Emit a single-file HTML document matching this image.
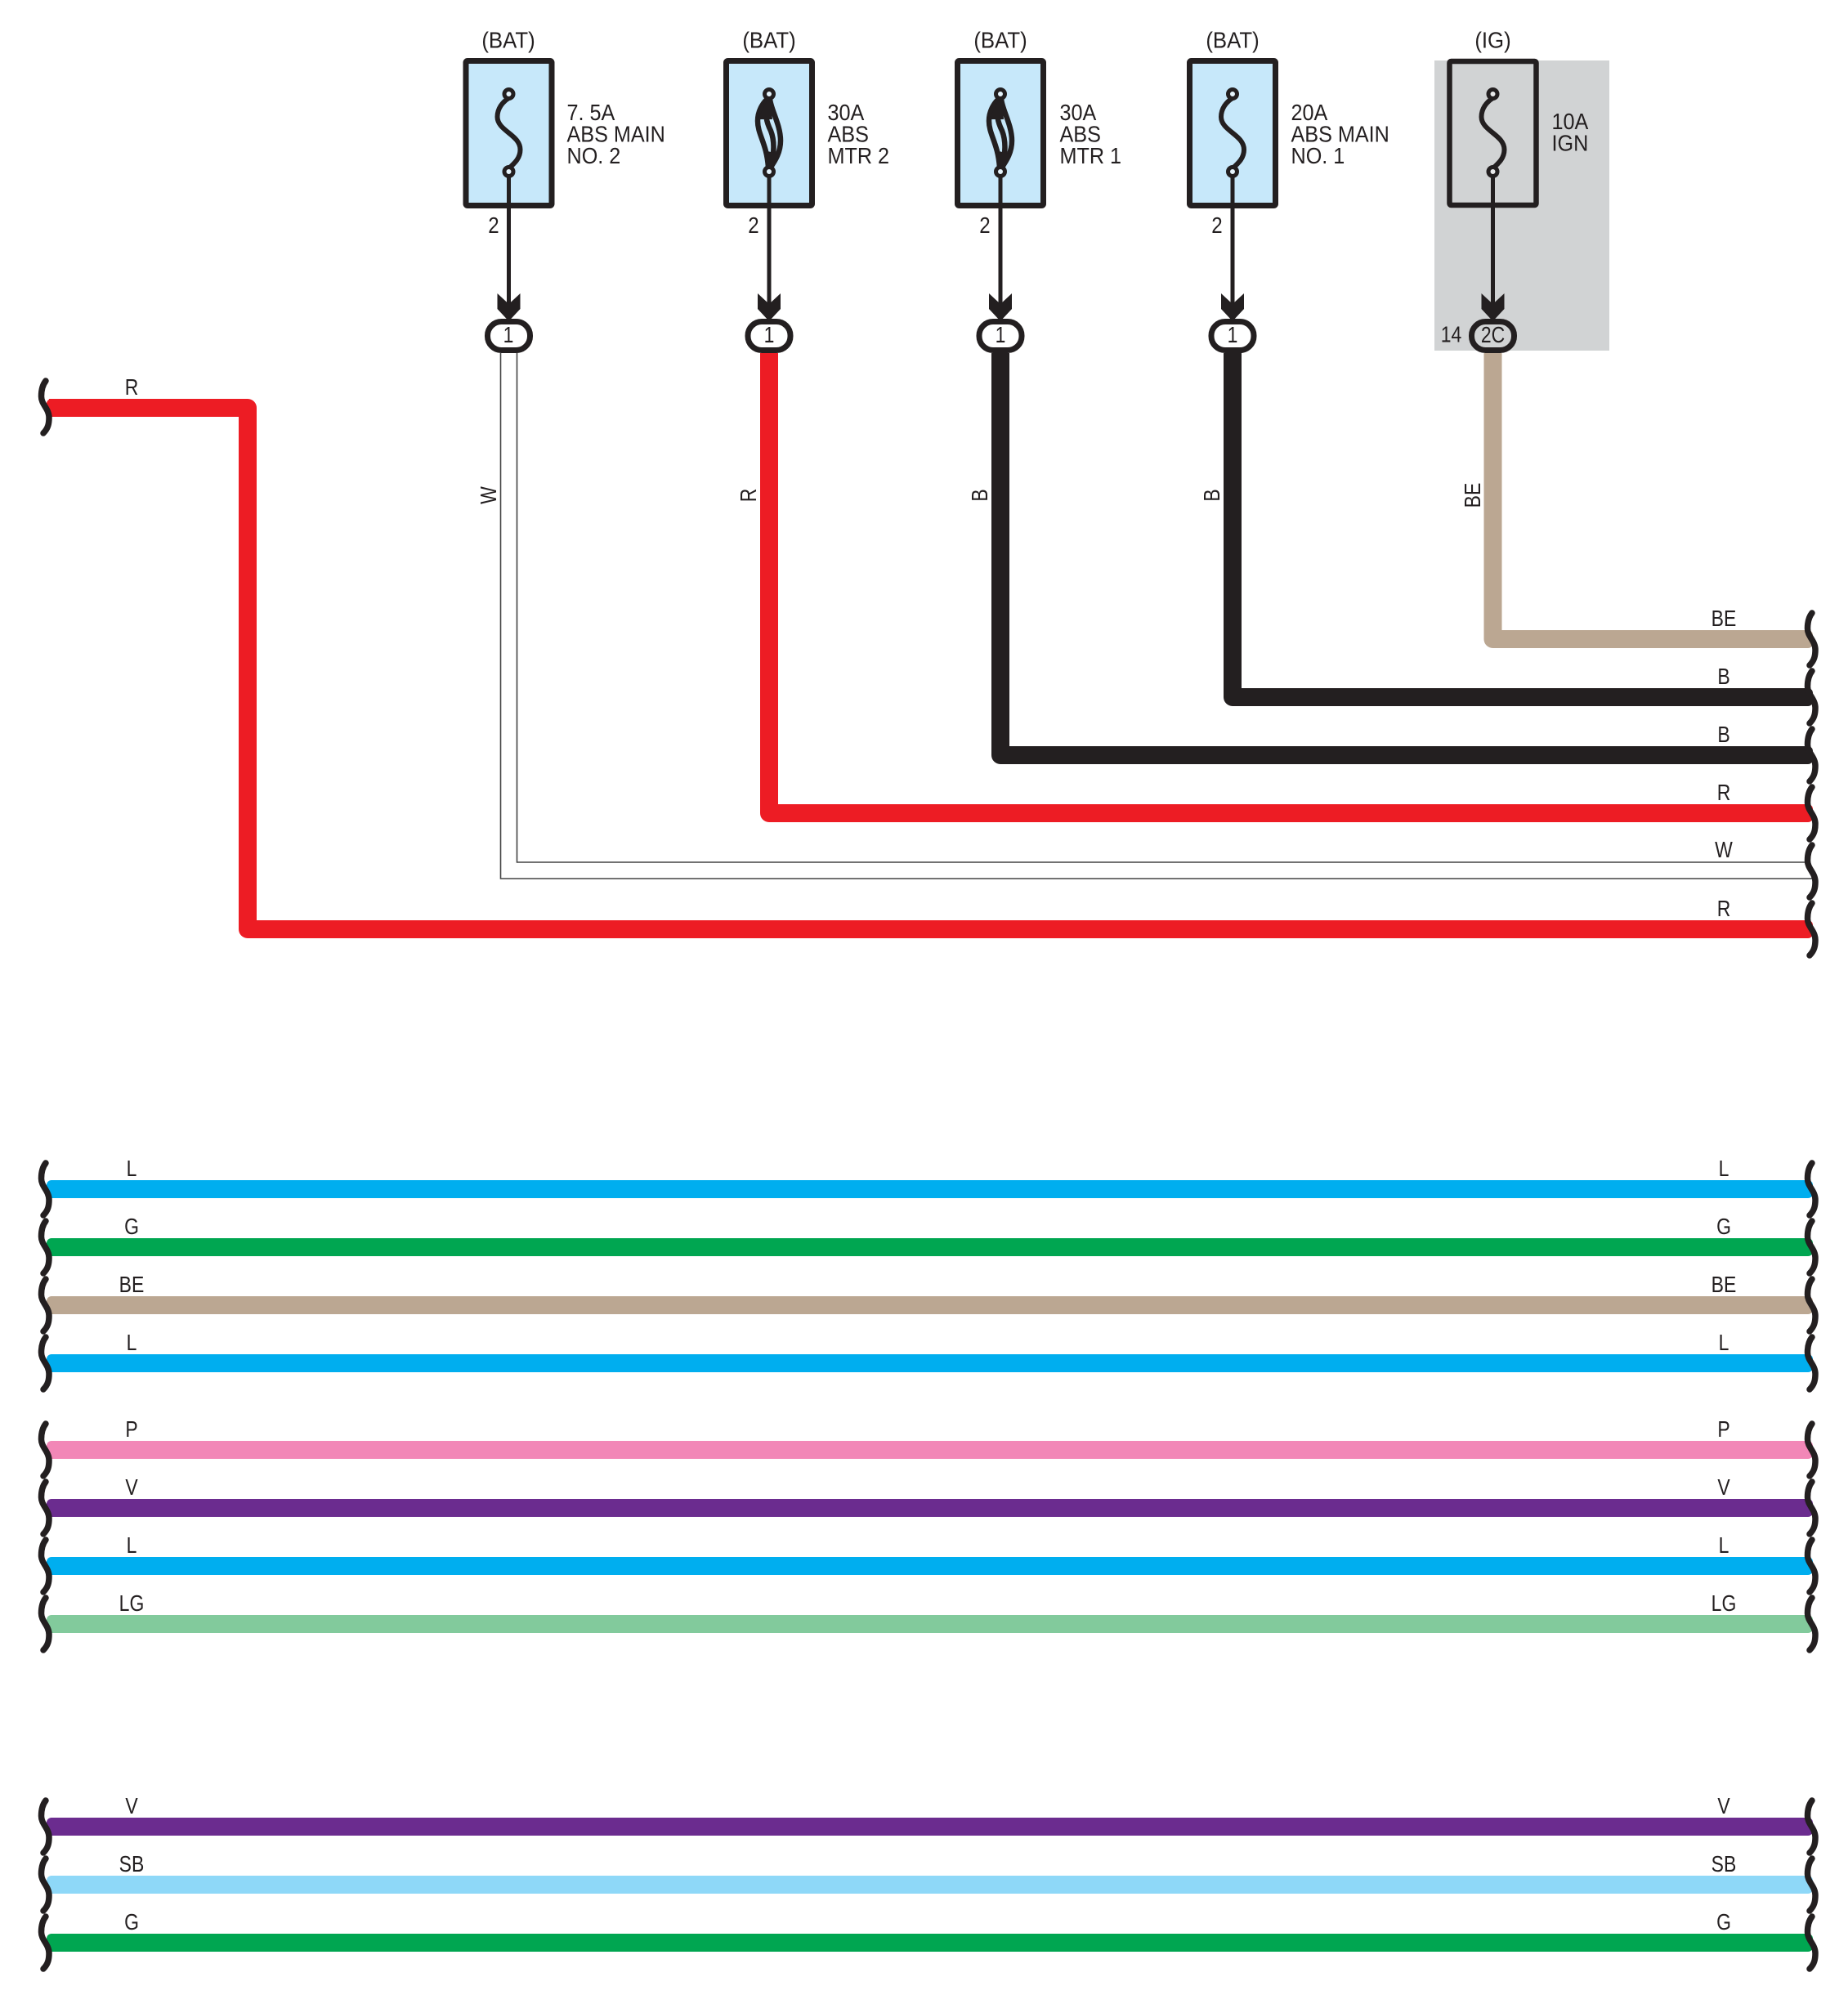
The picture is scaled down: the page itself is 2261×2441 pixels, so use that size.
<!DOCTYPE html>
<html><head><meta charset="utf-8"><style>
html,body{margin:0;padding:0;background:#fff}
svg{display:block}
text{font-family:"Liberation Sans",sans-serif;font-size:28px;fill:#231f20}
.m{text-anchor:middle}
</style></head><body>
<svg xmlns="http://www.w3.org/2000/svg" width="2261" height="2441" viewBox="0 0 2261 2441">
<defs>
<path id="sq" d="M56 -32C52 -27 50.5 -20 50.5 -13C50.5 -3 60 2 60 13C60 20 59 26 53 32" fill="none" stroke="#231f20" stroke-width="7.5" stroke-linecap="round"/>
<path id="thin" d="M0 120C-8 125 -14 133 -14 143C-14 160 14 165 14 183C14 193 8 199 0 206" fill="none" stroke="#231f20" stroke-width="6"/>
<g id="fat" fill="none" stroke="#231f20">
<path d="M-1 120C-9 127 -14 137 -14 148C-14 165 -3 175 -1 205" stroke-width="6.5"/>
<path d="M1 120C1 132 14 152 14 172C14 186 8 196 1 206" stroke-width="6.5"/>
<path d="M-2 122C-6 140 -3 150 2 160C6 170 7 185 2 205" stroke-width="6.5"/>
<path d="M-1 120L-14 146L4 146L2 120Z" fill="#231f20" stroke="none"/>
<path d="M-2 206L-7 184L12 188L2 207Z" fill="#231f20" stroke="none"/>
</g>
<g id="pins">
<path d="M0 210V392" stroke="#231f20" stroke-width="5" fill="none"/>
<polygon points="-14,359 0,372 14,359 14,378 0,393 -14,378" fill="#231f20"/>
</g>
</defs>

<rect x="1755" y="74" width="214" height="355" fill="#d1d3d4"/>

<!-- fuses -->
<g transform="translate(622.5,0)">
<rect x="-52.5" y="74.5" width="105" height="177" rx="2" fill="#c7e8fa" stroke="#231f20" stroke-width="7"/>
<use href="#thin"/><use href="#pins"/>
<circle cy="115" r="5.5" fill="#e6f4fc" stroke="#231f20" stroke-width="5"/><circle cy="210" r="5.5" fill="#e6f4fc" stroke="#231f20" stroke-width="5"/>
</g>
<g transform="translate(941,0)">
<rect x="-52.5" y="74.5" width="105" height="177" rx="2" fill="#c7e8fa" stroke="#231f20" stroke-width="7"/>
<use href="#fat"/><use href="#pins"/>
<circle cy="115" r="5.5" fill="#e6f4fc" stroke="#231f20" stroke-width="5"/><circle cy="210" r="5.5" fill="#e6f4fc" stroke="#231f20" stroke-width="5"/>
</g>
<g transform="translate(1224,0)">
<rect x="-52.5" y="74.5" width="105" height="177" rx="2" fill="#c7e8fa" stroke="#231f20" stroke-width="7"/>
<use href="#fat"/><use href="#pins"/>
<circle cy="115" r="5.5" fill="#e6f4fc" stroke="#231f20" stroke-width="5"/><circle cy="210" r="5.5" fill="#e6f4fc" stroke="#231f20" stroke-width="5"/>
</g>
<g transform="translate(1508,0)">
<rect x="-52.5" y="74.5" width="105" height="177" rx="2" fill="#c7e8fa" stroke="#231f20" stroke-width="7"/>
<use href="#thin"/><use href="#pins"/>
<circle cy="115" r="5.5" fill="#e6f4fc" stroke="#231f20" stroke-width="5"/><circle cy="210" r="5.5" fill="#e6f4fc" stroke="#231f20" stroke-width="5"/>
</g>
<g transform="translate(1826.5,0)">
<rect x="-53" y="75" width="106" height="176" rx="2" fill="#d1d3d4" stroke="#231f20" stroke-width="6.5"/>
<use href="#thin"/><use href="#pins"/>
<circle cy="115" r="5.5" fill="#e8e9ea" stroke="#231f20" stroke-width="5"/><circle cy="210" r="5.5" fill="#e8e9ea" stroke="#231f20" stroke-width="5"/>
</g>

<!-- wires with bends -->
<g fill="none" stroke-linejoin="round" stroke-width="22">
<path d="M60 499H303V1137H2210" stroke="#ed1c24"/>
<path d="M941 432V995H2210" stroke="#ed1c24"/>
<path d="M1224 432V924H2210" stroke="#231f20"/>
<path d="M1508 432V853H2210" stroke="#231f20"/>
<path d="M1826.5 432V782H2210" stroke="#bba792"/>
</g>
<path d="M632.5 432V1055H2208M612.5 432V1075H2220" fill="none" stroke="#444" stroke-width="1.6"/>

<!-- end caps -->
<rect x="57" y="488" width="20" height="22" rx="6" fill="#ed1c24"/>
<rect x="2198" y="1126" width="20" height="22" rx="6" fill="#ed1c24"/>
<rect x="2198" y="984" width="20" height="22" rx="6" fill="#ed1c24"/>
<rect x="2198" y="913" width="20" height="22" rx="6" fill="#231f20"/>
<rect x="2198" y="842" width="20" height="22" rx="6" fill="#231f20"/>
<rect x="2198" y="771" width="20" height="22" rx="6" fill="#bba792"/>

<!-- full width wires -->
<rect x="57" y="1444" width="2161" height="22" rx="6" fill="#00aeef"/>
<rect x="57" y="1515" width="2161" height="22" rx="6" fill="#00a651"/>
<rect x="57" y="1586" width="2161" height="22" rx="6" fill="#bba792"/>
<rect x="57" y="1657" width="2161" height="22" rx="6" fill="#00aeef"/>
<rect x="57" y="1763" width="2161" height="22" rx="6" fill="#f287b7"/>
<rect x="57" y="1834" width="2161" height="22" rx="6" fill="#6b2c8f"/>
<rect x="57" y="1905" width="2161" height="22" rx="6" fill="#00aeef"/>
<rect x="57" y="1976" width="2161" height="22" rx="6" fill="#82ca9c"/>
<rect x="57" y="2224" width="2161" height="22" rx="6" fill="#6b2c8f"/>
<rect x="57" y="2295" width="2161" height="22" rx="6" fill="#8ed8f8"/>
<rect x="57" y="2366" width="2161" height="22" rx="6" fill="#00a651"/>

<!-- connectors -->
<g fill="#fff" stroke="#231f20" stroke-width="7">
<rect x="596.5" y="393.5" width="52" height="35" rx="17"/>
<rect x="915" y="393.5" width="52" height="35" rx="17"/>
<rect x="1198" y="393.5" width="52" height="35" rx="17"/>
<rect x="1482" y="393.5" width="52" height="35" rx="17"/>
<rect x="1800.5" y="393.5" width="52" height="35" rx="17" fill="#d1d3d4"/>
</g>

<!-- break marks -->
<use href="#sq" transform="translate(0,498)"/>
<use href="#sq" transform="translate(0,1455)"/><use href="#sq" transform="translate(0,1526)"/><use href="#sq" transform="translate(0,1597)"/><use href="#sq" transform="translate(0,1668)"/>
<use href="#sq" transform="translate(0,1774)"/><use href="#sq" transform="translate(0,1845)"/><use href="#sq" transform="translate(0,1916)"/><use href="#sq" transform="translate(0,1987)"/>
<use href="#sq" transform="translate(0,2235)"/><use href="#sq" transform="translate(0,2306)"/><use href="#sq" transform="translate(0,2377)"/>
<use href="#sq" transform="translate(2161,782)"/><use href="#sq" transform="translate(2161,853)"/><use href="#sq" transform="translate(2161,924)"/><use href="#sq" transform="translate(2161,995)"/><use href="#sq" transform="translate(2161,1066)"/><use href="#sq" transform="translate(2161,1137)"/>
<use href="#sq" transform="translate(2161,1455)"/><use href="#sq" transform="translate(2161,1526)"/><use href="#sq" transform="translate(2161,1597)"/><use href="#sq" transform="translate(2161,1668)"/>
<use href="#sq" transform="translate(2161,1774)"/><use href="#sq" transform="translate(2161,1845)"/><use href="#sq" transform="translate(2161,1916)"/><use href="#sq" transform="translate(2161,1987)"/>
<use href="#sq" transform="translate(2161,2235)"/><use href="#sq" transform="translate(2161,2306)"/><use href="#sq" transform="translate(2161,2377)"/>

<!-- fuse labels -->
<text class="m" transform="translate(622,58.5) scale(.92,1)">(BAT)</text>
<text class="m" transform="translate(941,58.5) scale(.92,1)">(BAT)</text>
<text class="m" transform="translate(1224,58.5) scale(.92,1)">(BAT)</text>
<text class="m" transform="translate(1508,58.5) scale(.92,1)">(BAT)</text>
<text class="m" transform="translate(1826.5,58.5) scale(.92,1)">(IG)</text>

<text transform="translate(693.5,147) scale(.9,1)">7. 5A</text>
<text transform="translate(693.5,173.5) scale(.9,1)">ABS MAIN</text>
<text transform="translate(693.5,200) scale(.9,1)">NO. 2</text>
<text transform="translate(1012.5,147) scale(.9,1)">30A</text>
<text transform="translate(1012.5,173.5) scale(.9,1)">ABS</text>
<text transform="translate(1012.5,200) scale(.9,1)">MTR 2</text>
<text transform="translate(1296.5,147) scale(.9,1)">30A</text>
<text transform="translate(1296.5,173.5) scale(.9,1)">ABS</text>
<text transform="translate(1296.5,200) scale(.9,1)">MTR 1</text>
<text transform="translate(1579.5,147) scale(.9,1)">20A</text>
<text transform="translate(1579.5,173.5) scale(.9,1)">ABS MAIN</text>
<text transform="translate(1579.5,200) scale(.9,1)">NO. 1</text>
<text transform="translate(1898.5,158) scale(.9,1)">10A</text>
<text transform="translate(1898.5,184.5) scale(.9,1)">IGN</text>

<text class="m" transform="translate(604,285) scale(.86,1)">2</text>
<text class="m" transform="translate(922,285) scale(.86,1)">2</text>
<text class="m" transform="translate(1205,285) scale(.86,1)">2</text>
<text class="m" transform="translate(1489,285) scale(.86,1)">2</text>

<text class="m" transform="translate(622,419) scale(.82,1)">1</text>
<text class="m" transform="translate(941,419) scale(.82,1)">1</text>
<text class="m" transform="translate(1224,419) scale(.82,1)">1</text>
<text class="m" transform="translate(1508,419) scale(.82,1)">1</text>
<text class="m" transform="translate(1826.5,419) scale(.82,1)">2C</text>
<text class="m" transform="translate(1775.5,418.5) scale(.82,1)">14</text>

<!-- vertical wire labels -->
<text class="m" transform="translate(607,606) rotate(-90) scale(.82,1)">W</text>
<text class="m" transform="translate(925,606) rotate(-90) scale(.82,1)">R</text>
<text class="m" transform="translate(1208,606) rotate(-90) scale(.82,1)">B</text>
<text class="m" transform="translate(1492,606) rotate(-90) scale(.82,1)">B</text>
<text class="m" transform="translate(1811,606) rotate(-90) scale(.82,1)">BE</text>

<!-- wire labels -->
<text class="m" transform="translate(161,483) scale(.82,1)">R</text>
<text class="m" transform="translate(2109,766) scale(.82,1)">BE</text>
<text class="m" transform="translate(2109,837) scale(.82,1)">B</text>
<text class="m" transform="translate(2109,908) scale(.82,1)">B</text>
<text class="m" transform="translate(2109,979) scale(.82,1)">R</text>
<text class="m" transform="translate(2109,1049) scale(.82,1)">W</text>
<text class="m" transform="translate(2109,1121) scale(.82,1)">R</text>

<text class="m" transform="translate(161,1439) scale(.82,1)">L</text><text class="m" transform="translate(2109,1439) scale(.82,1)">L</text>
<text class="m" transform="translate(161,1510) scale(.82,1)">G</text><text class="m" transform="translate(2109,1510) scale(.82,1)">G</text>
<text class="m" transform="translate(161,1581) scale(.82,1)">BE</text><text class="m" transform="translate(2109,1581) scale(.82,1)">BE</text>
<text class="m" transform="translate(161,1652) scale(.82,1)">L</text><text class="m" transform="translate(2109,1652) scale(.82,1)">L</text>
<text class="m" transform="translate(161,1758) scale(.82,1)">P</text><text class="m" transform="translate(2109,1758) scale(.82,1)">P</text>
<text class="m" transform="translate(161,1829) scale(.82,1)">V</text><text class="m" transform="translate(2109,1829) scale(.82,1)">V</text>
<text class="m" transform="translate(161,1900) scale(.82,1)">L</text><text class="m" transform="translate(2109,1900) scale(.82,1)">L</text>
<text class="m" transform="translate(161,1971) scale(.82,1)">LG</text><text class="m" transform="translate(2109,1971) scale(.82,1)">LG</text>
<text class="m" transform="translate(161,2219) scale(.82,1)">V</text><text class="m" transform="translate(2109,2219) scale(.82,1)">V</text>
<text class="m" transform="translate(161,2290) scale(.82,1)">SB</text><text class="m" transform="translate(2109,2290) scale(.82,1)">SB</text>
<text class="m" transform="translate(161,2361) scale(.82,1)">G</text><text class="m" transform="translate(2109,2361) scale(.82,1)">G</text>
</svg>
</body></html>
